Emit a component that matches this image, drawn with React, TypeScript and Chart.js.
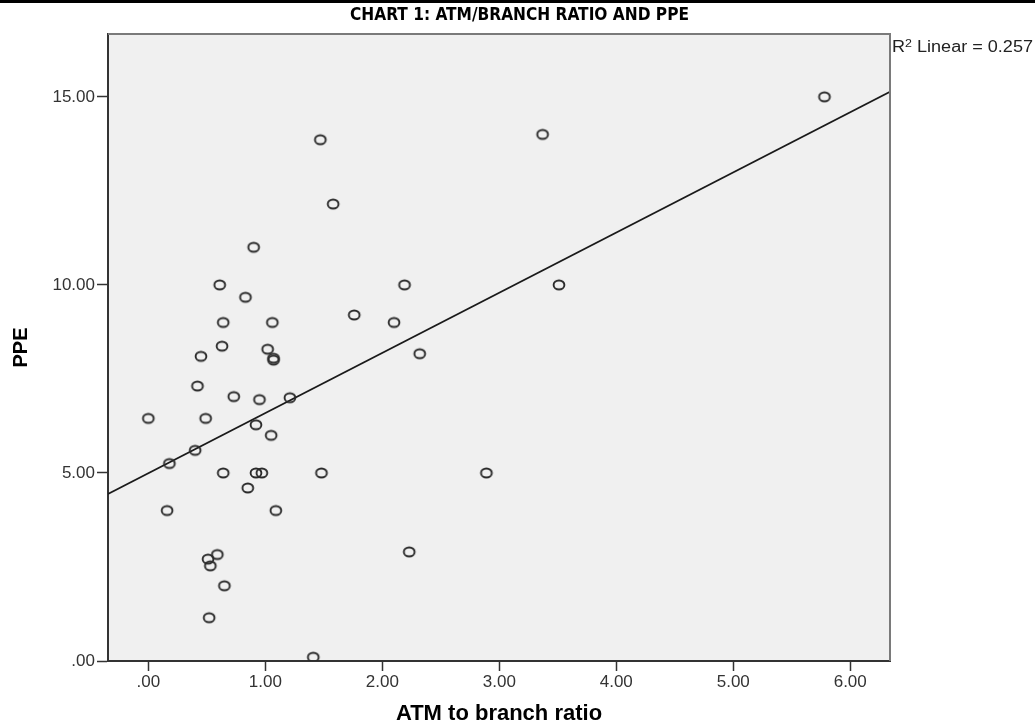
import { useEffect, useRef } from "react";
import { Chart, registerables } from "chart.js";

Chart.register(...registerables);

// ---- data ----
const ATM_RATIO = [
  0.0, 0.49, 0.92, 1.05, 0.4, 0.18, 0.64, 0.92, 0.97, 1.48, 0.85, 0.16, 1.09,
  0.59, 0.51, 0.53, 0.65, 0.52, 0.9, 0.61, 0.83, 0.64, 1.06, 0.63, 1.02, 1.07,
  1.07, 0.45, 0.42, 0.73, 0.95, 1.21, 1.47, 1.58, 3.37, 2.19, 3.51, 1.76, 2.1,
  2.32, 2.89, 2.23, 5.78, 1.41,
];
const PPE = [
  6.45, 6.45, 6.28, 6.0, 5.6, 5.25, 5.0, 5.0, 5.0, 5.0, 4.6, 4.0, 4.0, 2.83,
  2.71, 2.53, 2.0, 1.15, 11.0, 10.0, 9.67, 9.0, 9.0, 8.37, 8.29, 8.05, 8.0,
  8.1, 7.31, 7.03, 6.95, 7.0, 13.86, 12.15, 14.0, 10.0, 10.0, 9.2, 9.0, 8.17,
  5.0, 2.9, 15.0, 0.1,
];
const X_TICKS = [0, 1, 2, 3, 4, 5, 6];
const Y_TICKS = [0, 5, 10, 15];
const X_RANGE = [-0.345, 6.34];
const Y_RANGE = [0, 16.67];
const FIT_INTERCEPT = 4.99;
const FIT_SLOPE = 1.6;
const R2_VALUE = "0.257";
const CHART_TITLE = "CHART 1: ATM/BRANCH RATIO AND PPE";
const X_TITLE = "ATM to branch ratio";
const Y_TITLE = "PPE";

const FONT = "'Liberation Sans', Arial, sans-serif";

const fmt = (v: number) => {
  const s = Number(v).toFixed(2);
  return s.startsWith("0.") ? s.slice(1) : s;
};

function makeMarker() {
  const c = document.createElement("canvas");
  c.width = 16;
  c.height = 14;
  const g = c.getContext("2d")!;
  g.strokeStyle = "#2a2a2a";
  g.lineWidth = 1.9;
  g.beginPath();
  g.ellipse(8, 7, 5.4, 4.5, 0, 0, Math.PI * 2);
  g.stroke();
  return c;
}

const decorPlugin = {
  id: "decor",
  beforeDraw(chart: any) {
    const { ctx, chartArea: a, width } = chart;
    ctx.save();
    ctx.fillStyle = "#ffffff";
    ctx.fillRect(0, 0, chart.width, chart.height);
    ctx.fillStyle = "#f0f0f0";
    ctx.fillRect(a.left, a.top, a.right - a.left, a.bottom - a.top);
    ctx.fillStyle = "#000000";
    ctx.fillRect(0, 0, width, 3);
    ctx.restore();
  },
  afterDraw(chart: any) {
    const { ctx, chartArea: a } = chart;
    ctx.save();
    // top and right frame lines
    ctx.strokeStyle = "#7a7a7a";
    ctx.lineWidth = 2;
    ctx.beginPath();
    ctx.moveTo(a.left, a.top);
    ctx.lineTo(a.right, a.top);
    ctx.lineTo(a.right, a.bottom);
    ctx.stroke();

    // chart title
    ctx.fillStyle = "#000000";
    ctx.font = `bold 17px 'Liberation Sans Narrow', 'DejaVu Sans Condensed', ${FONT}`;
    const tw = ctx.measureText(CHART_TITLE).width;
    ctx.translate(519.5, 20);
    ctx.scale(339 / tw, 1);
    ctx.textAlign = "center";
    ctx.textBaseline = "alphabetic";
    ctx.fillText(CHART_TITLE, 0, 0);
    ctx.restore();

    // R² Linear label
    ctx.save();
    ctx.fillStyle = "#222222";
    ctx.textAlign = "left";
    ctx.textBaseline = "alphabetic";
    const big = `16px ${FONT}`;
    const small = `11px ${FONT}`;
    const rest = ` Linear = ${R2_VALUE}`;
    ctx.font = big;
    const wR = ctx.measureText("R").width;
    const wRest = ctx.measureText(rest).width;
    ctx.font = small;
    const w2 = ctx.measureText("2").width;
    const sx = 141 / (wR + w2 + wRest);
    ctx.translate(a.right + 2, 51.5);
    ctx.scale(sx, 1);
    ctx.font = big;
    ctx.fillText("R", 0, 0);
    ctx.font = small;
    ctx.fillText("2", wR, -5);
    ctx.font = big;
    ctx.fillText(rest, wR + w2, 0);
    ctx.restore();
  },
};

export default function App() {
  const ref = useRef<HTMLCanvasElement | null>(null);

  useEffect(() => {
    if (!ref.current) return;
    const marker = makeMarker();
    const points = ATM_RATIO.map((x, i) => ({ x, y: PPE[i] }));
    const fitLine = X_RANGE.map((x) => ({ x, y: FIT_INTERCEPT + FIT_SLOPE * x }));

    const tickFont = { family: FONT, size: 17 };
    const chart = new Chart(ref.current, {
      type: "scatter",
      data: {
        datasets: [
          {
            type: "scatter",
            data: points,
            pointStyle: marker as any,
            pointRadius: 5,
            backgroundColor: "rgba(0,0,0,0)",
            borderColor: "#333333",
            order: 1,
          },
          {
            type: "line",
            data: fitLine,
            showLine: true,
            borderColor: "#1a1a1a",
            borderWidth: 1.7,
            pointRadius: 0,
            fill: false,
            order: 2,
          } as any,
        ],
      },
      options: {
        responsive: false,
        animation: false,
        devicePixelRatio: 1,
        layout: { padding: { left: 0, top: 34, right: 145, bottom: 0 } },
        plugins: {
          legend: { display: false },
          tooltip: { enabled: false },
        },
        scales: {
          x: {
            type: "linear",
            min: X_RANGE[0],
            max: X_RANGE[1],
            afterBuildTicks: (s: any) => {
              s.ticks = X_TICKS.map((v) => ({ value: v }));
            },
            afterFit: (s: any) => {
              s.height = 67;
            },
            ticks: {
              callback: (v: any) => fmt(v),
              font: tickFont,
              color: "#333333",
              padding: 1,
              maxRotation: 0,
              autoSkip: false,
            },
            grid: {
              drawOnChartArea: false,
              drawTicks: true,
              tickLength: 10,
              tickColor: "#333333",
              tickWidth: 1.5,
            },
            border: { display: true, color: "#333333", width: 2 },
            title: {
              display: true,
              text: X_TITLE,
              color: "#000000",
              font: { family: FONT, size: 22, weight: "bold" },
              padding: { top: 0, bottom: 1 },
            },
          },
          y: {
            type: "linear",
            min: Y_RANGE[0],
            max: Y_RANGE[1],
            afterBuildTicks: (s: any) => {
              s.ticks = Y_TICKS.map((v) => ({ value: v }));
            },
            afterFit: (s: any) => {
              s.width = 108;
            },
            ticks: {
              callback: (v: any) => fmt(v),
              font: tickFont,
              color: "#333333",
              padding: 2,
              autoSkip: false,
            },
            grid: {
              drawOnChartArea: false,
              drawTicks: true,
              tickLength: 11,
              tickColor: "#333333",
              tickWidth: 1.5,
            },
            border: { display: true, color: "#333333", width: 2 },
            title: {
              display: true,
              text: Y_TITLE,
              color: "#000000",
              font: { family: FONT, size: 20, weight: "bold" },
              padding: { top: 9, bottom: 0 },
            },
          },
        },
      } as any,
      plugins: [decorPlugin],
    });
    return () => chart.destroy();
  }, []);

  return (
    <div style={{ position: "absolute", left: 0, top: 0, width: 1035, height: 728 }}>
      <canvas ref={ref} width={1035} height={728} style={{ display: "block" }} />
    </div>
  );
}
